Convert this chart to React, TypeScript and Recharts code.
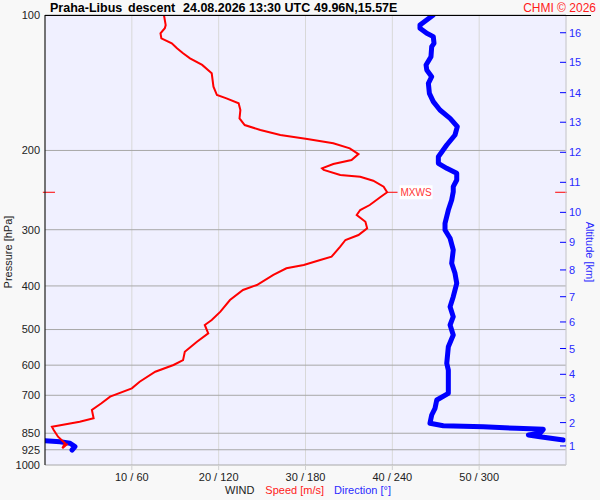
import { LineChart, Line, XAxis, YAxis, CartesianGrid, ReferenceLine } from 'recharts';

// pressure levels [hPa] and wind speed [m/s]
const SPD_P = [100, 105.3, 107.0, 109.8, 112.7, 115.6, 118.6, 121.6, 124.8, 129.1, 134.8, 144.3, 150.6, 153.2, 157.1, 162.6, 169.7, 175.6, 180.1, 184.8, 188.6, 192.8, 197.8, 203.7, 210.0, 214.3, 219.1, 221.0, 226.8, 228.8, 233.5, 240.7, 247.7, 254.1, 264.4, 271.3, 278.3, 288.0, 297.9, 308.3, 316.2, 327.3, 344.4, 350.3, 359.4, 365.5, 378.2, 398.1, 408.4, 429.9, 456.3, 476.2, 488.5, 509.8, 532.1, 560.1, 584.6, 599.5, 620.4, 653.0, 675.5, 705.0, 729.3, 754.7, 787.4, 801.2, 822.1, 836.0, 865.1, 894.8, 918.2, 897.0];
const SPD_V = [13.7, 13.9, 13.8, 13.3, 13.4, 14.6, 15.2, 15.9, 16.7, 18.1, 19.2, 19.4, 19.8, 20.9, 22.3, 22.5, 22.4, 23.0, 24.8, 27.1, 30.2, 33.2, 35.1, 36.1, 35.3, 33.2, 31.9, 32.1, 34.0, 36.3, 37.8, 39.0, 39.4, 38.6, 37.4, 36.3, 35.9, 36.9, 37.1, 36.1, 34.6, 34.0, 33.0, 31.7, 29.8, 27.8, 26.3, 24.4, 22.8, 21.3, 20.2, 19.2, 18.4, 18.8, 17.5, 16.1, 15.9, 14.8, 12.7, 10.9, 10.0, 7.5, 6.5, 5.4, 5.6, 4.0, 0.8, 1.0, 1.5, 2.3, 2.0, 2.6];

// pressure levels [hPa] and wind direction [deg] (null = wrap 360 -> 0)
const DIR_P = [100, 105.3, 107.0, 109.8, 111.7, 115.6, 117.6, 123.8, 129.1, 132.5, 137.1, 141.8, 149.3, 155.8, 162.6, 169.7, 177.1, 184.8, 194.5, 206.5, 213.6, 219.1, 224.8, 232.6, 240.7, 247.0, 257.7, 271.3, 290.4, 300.4, 313.4, 332.8, 356.3, 375.0, 394.6, 422.7, 444.8, 468.1, 488.5, 514.1, 545.9, 594.3, 615.2, 693.0, 717.1, 748.2, 774.3, 808.0, 818.0, 822.1, 828.8, 833.1, 850.4, 857.7, 865.1, 879.9, 881.5, 883.1, 887.7, 894.8, 910.5, 926.1];
const DIR_V = [268.3, 259.1, 259.1, 263.8, 268.3, 268.8, 267.2, 266.7, 263.3, 263.8, 267.2, 264.9, 265.6, 268.3, 272.9, 279.9, 284.9, 283.3, 277.6, 271.8, 271.8, 277.6, 284.5, 284.5, 282.1, 282.1, 281.0, 278.7, 276.4, 276.4, 279.9, 282.1, 281.0, 283.3, 284.5, 282.1, 279.9, 282.1, 279.9, 282.1, 278.7, 277.6, 278.7, 278.7, 270.7, 269.5, 267.2, 266.0, 275.2, 302.9, 325.9, 344.3, 342.0, 334.0, 342.0, 358.2, null, 0, 10.4, 17.3, 20.7, 18.7];

const PRESSURE_TICKS = [100, 200, 300, 400, 500, 600, 700, 850, 925, 1000];
const SPEED_TICKS = [10, 20, 30, 40, 50];

// altitude scale on the right: km and the pressure level it sits at
const ALT_KM = [1, 2, 3, 4, 5, 6, 7, 8, 9, 10, 11, 12, 13, 14, 15, 16];
const ALT_P = [907, 805, 708.7, 628.7, 551, 481, 422.7, 368.6, 320, 274.5, 235.4, 201.9, 173.1, 148.8, 127.4, 109.5];

// max wind speed level
const MXWS_P = 247.7;
const MXWS_SPD = 39.4;

const speedData = SPD_P.map((p, i) => ({ p, s: SPD_V[i] }));
const dirAll = DIR_P.map((p, i) => ({ p, d: DIR_V[i] }));
// split the direction trace where it wraps past 360
const wrapAt = dirAll.findIndex((r) => r.d === null);
const dirMain = dirAll.slice(0, wrapAt);
const dirWrap = dirAll.slice(wrapAt + 1);

const FONT = 'Arial, "Liberation Sans", sans-serif';

const AltTick = (props: any) => {
  const { x, y, payload } = props;
  const idx = ALT_P.findIndex((p) => Math.abs(p - payload.value) < 0.01);
  return (
    <g>
      <line x1={x - 9} x2={x - 3} y1={y} y2={y} stroke="#0000ff" strokeWidth={1} />
      <text x={x} y={y} dy={4} fill="#2a2aff" fontSize={11} fontFamily={FONT}>
        {ALT_KM[idx]}
      </text>
    </g>
  );
};

const MxwsLabel = (props: any) => {
  const vb = props.viewBox || {};
  const x = (vb.x ?? 0) + (vb.width ?? 0) + 3;
  const y = vb.y ?? 0;
  return (
    <g>
      <rect x={x - 1} y={y - 7} width={33} height={14} fill="#ffffff" />
      <text x={x} y={y} dy={4} fill="#ff3535" fontSize={10} fontFamily={FONT}>MXWS</text>
    </g>
  );
};

export default function App() {
  return (
    <div style={{ position: 'absolute', left: 0, top: 0, width: 600, height: 500, background: '#f8f8f8', fontFamily: FONT, overflow: 'hidden' }}>
      <LineChart
        width={600}
        height={500}
        layout="vertical"
        margin={{ top: 15, right: 0, bottom: 15, left: 0 }}
        style={{ position: 'absolute', left: 0, top: 0 }}
      >
        <CartesianGrid horizontal={false} stroke="#d8d8d8" fill="#f0f0ff" />
        <CartesianGrid vertical={false} stroke="#a8a8a8" />
        <XAxis
          type="number"
          domain={[0, 60]}
          ticks={SPEED_TICKS}
          allowDataOverflow
          tickFormatter={(v: number) => `${v} / ${v * 6}`}
          axisLine={false}
          tickLine={{ stroke: '#d0d0d0' }}
          tickSize={5}
          tickMargin={3}
          height={20}
          interval={0}
          tick={{ fill: '#222', fontSize: 11, fontFamily: FONT }}
        />
        <XAxis xAxisId="dir" type="number" domain={[0, 360]} allowDataOverflow hide />
        <YAxis
          type="number"
          dataKey="p"
          scale="log"
          domain={[100, 1000]}
          allowDataOverflow
          ticks={PRESSURE_TICKS}
          interval={0}
          width={45}
          axisLine={{ stroke: '#000' }}
          tickLine={false}
          tickSize={0}
          tickMargin={5}
          tick={{ fill: '#222', fontSize: 11, fontFamily: FONT }}
        />
        <YAxis
          yAxisId="alt"
          orientation="right"
          type="number"
          dataKey="p"
          scale="log"
          domain={[100, 1000]}
          allowDataOverflow
          ticks={ALT_P}
          interval={0}
          width={34}
          axisLine={{ stroke: '#d0d0d8' }}
          tickLine={false}
          tickSize={0}
          tickMargin={3}
          tick={AltTick}
        />
        {/* invisible series so the altitude axis gets a scale */}
        <Line
          data={speedData}
          dataKey="s"
          yAxisId="alt"
          stroke="none"
          dot={false}
          activeDot={false}
          isAnimationActive={false}
        />
        <Line
          data={dirMain}
          dataKey="d"
          xAxisId="dir"
          stroke="#0000ff"
          strokeWidth={5}
          strokeLinejoin="round"
          strokeLinecap="round"
          dot={false}
          isAnimationActive={false}
        />
        <Line
          data={dirWrap}
          dataKey="d"
          xAxisId="dir"
          stroke="#0000ff"
          strokeWidth={5}
          strokeLinejoin="round"
          strokeLinecap="round"
          dot={false}
          isAnimationActive={false}
        />
        <Line
          data={speedData}
          dataKey="s"
          stroke="#ff0000"
          strokeWidth={2}
          dot={false}
          isAnimationActive={false}
        />
        <ReferenceLine
          segment={[{ x: MXWS_SPD, y: MXWS_P }, { x: MXWS_SPD + 1.2, y: MXWS_P }]}
          stroke="#ff0000"
          ifOverflow="visible"
          label={<MxwsLabel />}
        />
        <ReferenceLine
          segment={[{ x: -0.25, y: MXWS_P }, { x: 1.15, y: MXWS_P }]}
          stroke="#ff0000"
          ifOverflow="visible"
        />
        <ReferenceLine
          segment={[{ x: 58.75, y: MXWS_P }, { x: 60.1, y: MXWS_P }]}
          stroke="#ff0000"
          ifOverflow="visible"
        />
      </LineChart>

      {/* title and top rule */}
      <div style={{ position: 'absolute', left: 45, top: 15, width: 546, height: 1, background: '#000' }} />
      <div style={{ position: 'absolute', top: 1, left: 50, fontSize: 12.5, fontWeight: 'bold', color: '#000', whiteSpace: 'nowrap' }}>
        <span style={{ position: 'absolute', left: 0 }}>Praha-Libus</span>
        <span style={{ position: 'absolute', left: 78 }}>descent</span>
        <span style={{ position: 'absolute', left: 133 }}>24.08.2026 13:30 UTC</span>
        <span style={{ position: 'absolute', left: 264 }}>49.96N,15.57E</span>
      </div>
      <div style={{ position: 'absolute', top: 1, right: 4, fontSize: 12, color: '#ff1a1a', whiteSpace: 'nowrap' }}>CHMI © 2026</div>

      {/* axis titles */}
      <div style={{ position: 'absolute', left: 8, top: 252, fontSize: 11, color: '#222', whiteSpace: 'nowrap', transform: 'translate(-50%, -50%) rotate(-90deg)' }}>
        Pressure [hPa]
      </div>
      <div style={{ position: 'absolute', left: 590, top: 252, fontSize: 11, color: '#2a2aff', whiteSpace: 'nowrap', transform: 'translate(-50%, -50%) rotate(90deg)' }}>
        Altitude [km]
      </div>
      <div style={{ position: 'absolute', top: 484, left: 225, fontSize: 11, whiteSpace: 'nowrap' }}>
        <span style={{ color: '#222' }}>WIND</span>
        <span style={{ color: '#ff1a1a', marginLeft: 11 }}>Speed [m/s]</span>
        <span style={{ color: '#2a2aff', marginLeft: 10 }}>Direction [°]</span>
      </div>
    </div>
  );
}
